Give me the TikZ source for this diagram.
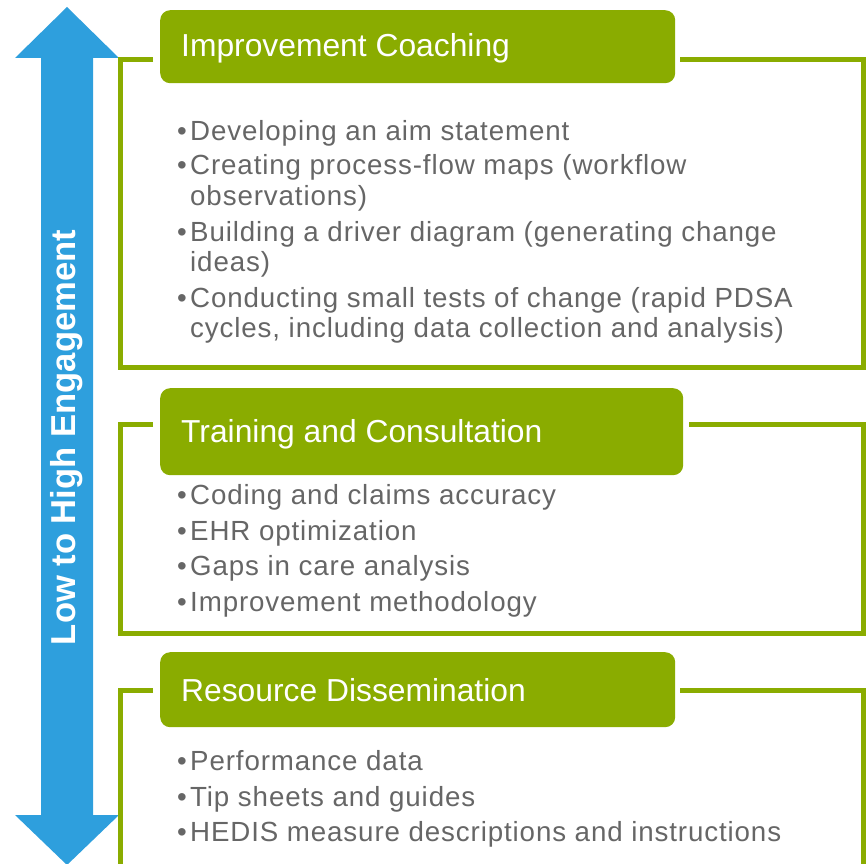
\documentclass[tikz,border=0pt]{standalone}
\usepackage{fontspec}
\setmainfont{Liberation Sans}
\newfontfamily\bodyfont[LetterSpace=3.2]{Liberation Sans}
\definecolor{leaf}{RGB}{138,172,0}
\definecolor{sky}{RGB}{46,159,221}
\definecolor{ink}{RGB}{102,102,102}
\tikzset{
  frame/.style={draw=leaf, line width=5pt},
  headbox/.style={fill=leaf, rounded corners=10pt, inner sep=0pt, anchor=north west},
  headtext/.style={text=white, font=\fontsize{31.8}{36}\selectfont, anchor=base west, inner sep=0pt},
  item/.style={text=ink, font=\bodyfont\fontsize{27.7}{30}\selectfont, anchor=base west, inner sep=0pt},
  dot/.style={item},
}
\begin{document}
\begin{tikzpicture}[x=1pt, y=-1pt]
\useasboundingbox (0,0) rectangle (867,864);

% engagement arrow
\fill[sky] (67,7) -- (119,58) -- (93,58) -- (93,815) -- (119,815) -- (67,865)
  -- (15,815) -- (41,815) -- (41,58) -- (15,58) -- cycle;
\node[text=white, font=\bfseries\fontsize{34.6}{40}\selectfont, rotate=90, inner sep=0pt]
  (eng) at (67,437.5) {Low to High Engagement};

% frames
\draw[frame] (153,60) -- (120,60) -- (120,367) -- (863,367) -- (863,60) -- (680,60);
\draw[frame] (153,424) -- (120,424) -- (120,633) -- (863,633) -- (863,424) -- (689,424);
\draw[frame] (153,690) -- (120,690) -- (120,868) -- (863,868) -- (863,690) -- (680,690);

% headers
\node[headbox, minimum width=515pt, minimum height=73pt] (h1) at (160,10) {};
\node[headtext] (t1) at (181,57) {Improvement Coaching};
\node[headbox, minimum width=523pt, minimum height=87pt] (h2) at (160,388) {};
\node[headtext] (t2) at (181,442) {Training and Consultation};
\node[headbox, minimum width=515pt, minimum height=75pt] (h3) at (160,652) {};
\node[headtext] (t3) at (181,701) {Resource Dissemination};

% coaching items
\node[dot] (d11) at (177,140) {•};
\node[item] (a11) at (190,140) {Developing an aim statement};
\node[dot] (d12) at (177,175) {•};
\node[item] (a12) at (190,175) {Creating process-flow maps (workflow};
\node[item] (a12b) at (190,205) {observations)};
\node[dot] (d13) at (177,241) {•};
\node[item] (a13) at (190,241) {Building a driver diagram (generating change};
\node[item] (a13b) at (190,271) {ideas)};
\node[dot] (d14) at (177,307) {•};
\node[item] (a14) at (190,307) {Conducting small tests of change (rapid PDSA};
\node[item] (a14b) at (190,337) {cycles, including data collection and analysis)};

% training items
\node[dot] (d21) at (177,504) {•};
\node[item] (a21) at (190,504) {Coding and claims accuracy};
\node[dot] (d22) at (177,540) {•};
\node[item] (a22) at (190,540) {EHR optimization};
\node[dot] (d23) at (177,575) {•};
\node[item] (a23) at (190,575) {Gaps in care analysis};
\node[dot] (d24) at (177,611) {•};
\node[item] (a24) at (190,611) {Improvement methodology};

% resource items
\node[dot] (d31) at (177,770) {•};
\node[item] (a31) at (190,770) {Performance data};
\node[dot] (d32) at (177,806) {•};
\node[item] (a32) at (190,806) {Tip sheets and guides};
\node[dot] (d33) at (177,841) {•};
\node[item] (a33) at (190,841) {HEDIS measure descriptions and instructions};
\end{tikzpicture}
\end{document}
